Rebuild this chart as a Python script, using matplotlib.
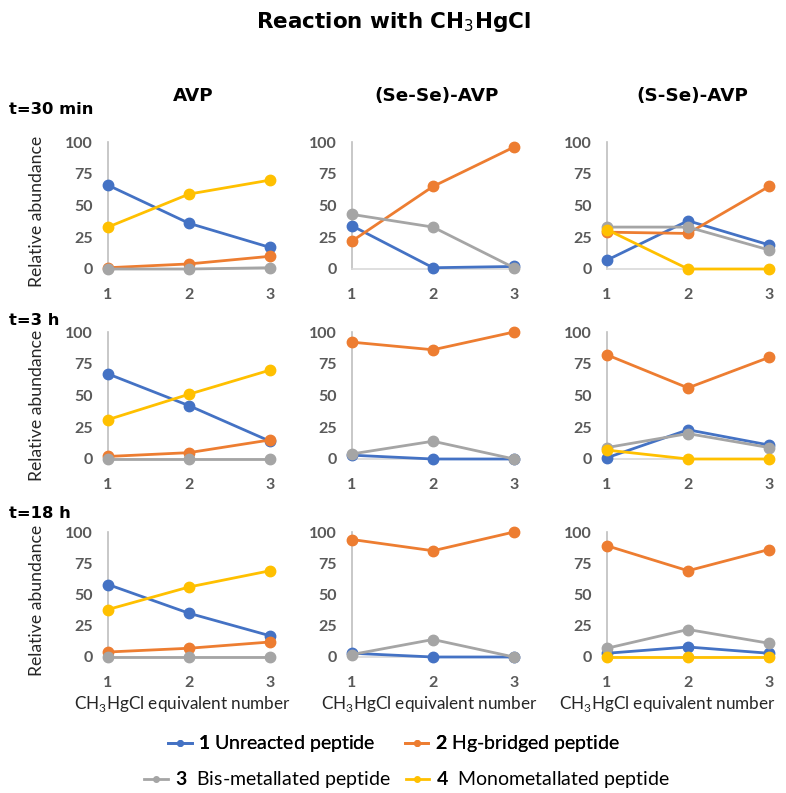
import matplotlib.pyplot as plt
from matplotlib.lines import Line2D

plt.rcParams['font.family'] = ['Lato', 'DejaVu Sans']
plt.rcParams['mathtext.fontset'] = 'custom'
plt.rcParams['mathtext.rm'] = 'Lato'
plt.rcParams['mathtext.bf'] = 'Lato:bold'

# ----------------------------
# Data (relative abundance, %)
# order of series: 1 unreacted, 2 Hg-bridged, 3 bis-metallated, 4 monometallated
# ----------------------------
equiv = [1, 2, 3]

avp_30 = [[66, 36, 17], [1, 4, 10], [0, 0, 1], [33, 59, 70]]
sese_30 = [[34, 1, 2], [22, 65, 96], [43, 33, 1], None]
sse_30 = [[7, 38, 19], [29, 28, 65], [33, 33, 15], [31, 0, 0]]

avp_3 = [[67, 42, 14], [2, 5, 15], [0, 0, 0], [31, 51, 70]]
sese_3 = [[3, 0, 0], [92, 86, 100], [4, 14, 0], None]
sse_3 = [[1, 23, 11], [82, 56, 80], [9, 20, 9], [7, 0, 0]]

avp_18 = [[58, 35, 17], [4, 7, 12], [0, 0, 0], [38, 56, 69]]
sese_18 = [[3, 0, 0], [94, 85, 100], [2, 14, 0], None]
sse_18 = [[3, 8, 3], [89, 69, 86], [7, 22, 11], [0, 0, 0]]

col_titles = ["AVP", "(Se-Se)-AVP", "(S-Se)-AVP"]
row_titles = ["t=30 min", "t=3 h", "t=18 h"]
series_names = [r"$\mathbf{1}$ Unreacted peptide", r"$\mathbf{2}$ Hg-bridged peptide",
                r"$\mathbf{3}$  Bis-metallated peptide", r"$\mathbf{4}$  Monometallated peptide"]
colors = ['#4472C4', '#ED7D31', '#A5A5A5', '#FFC000']
yticks = [0, 25, 50, 75, 100]

panels = [[avp_30, sese_30, sse_30],
          [avp_3, sese_3, sse_3],
          [avp_18, sese_18, sse_18]]

# ----------------------------
# Figure layout (pixel positions of the reference)
# ----------------------------
W, H = 786, 793
fig = plt.figure(figsize=(W / 100, H / 100), dpi=100)

col_x = [108, 352, 607]
col_w = 162
row_bottom = [269, 459, 657]
row_h = [127, 127, 125]
xlabel_x = [0.46, 0.48, 0.37]
ylabel_y = [0.45, 0.42, 0.45]

for r in range(3):
    for c in range(3):
        ax = fig.add_axes([col_x[c] / W, 1 - row_bottom[r] / H, col_w / W, row_h[r] / H])
        for k, vals in enumerate(panels[r][c]):
            if vals is None:
                continue
            ax.plot(equiv, vals, '-o', color=colors[k], lw=2, ms=7.5, clip_on=False, zorder=3 + k)
        ax.set_xlim(1, 3)
        ax.set_ylim(0, 100)
        ax.set_xticks(equiv)
        ax.set_yticks(yticks)
        for s in ['top', 'right']:
            ax.spines[s].set_visible(False)
        ax.spines['left'].set_color('#BFBFBF')
        ax.spines['bottom'].set_color('#D9D9D9')
        ax.spines['left'].set_linewidth(1.2)
        ax.spines['bottom'].set_linewidth(1.2)
        ax.tick_params(length=0, labelsize=11.5, labelcolor='#595959')
        ax.tick_params(axis='y', pad=11)
        ax.tick_params(axis='x', pad=14)
        for lab in ax.get_xticklabels() + ax.get_yticklabels():
            lab.set_fontweight('bold')
        ax.set_facecolor('none')
        if c == 0:
            ax.set_ylabel("Relative abundance", fontsize=12.7, color='#262626')
            ax.yaxis.set_label_coords(-0.44, ylabel_y[r])
            ax.yaxis.label.set_va('center')
        if r == 2:
            ax.set_xlabel(r"CH$_3$HgCl equivalent number", fontsize=12.3, color='#262626')
            ax.xaxis.set_label_coords(xlabel_x[c], -0.38)
            ax.xaxis.label.set_va('center')

# titles
fig.text(0.5, 1 - 22 / H, r"Reaction with CH$_3$HgCl", ha='center', va='center',
         fontsize=15.5, fontweight='bold', family='DejaVu Sans', math_fontfamily='dejavusans')
for c, t in enumerate(col_titles):
    fig.text((col_x[c] + col_w / 2 + 4) / W, 1 - 96 / H, t, ha='center', va='center',
             fontsize=13.2, fontweight='bold', family='DejaVu Sans')
for r, y in zip(range(3), [109, 320, 514]):
    fig.text(9 / W, 1 - y / H, row_titles[r], ha='left', va='center', fontsize=11.8,
             fontweight='bold', family='DejaVu Sans')

# legend
handles = [Line2D([], [], color=col, lw=2, marker='o', ms=4) for col in colors]
leg1 = fig.legend(handles[:2], series_names[:2], loc='center', bbox_to_anchor=(394 / W, 1 - 744 / H),
                  ncol=2, frameon=False, fontsize=14, handlelength=1.2, handletextpad=0.35,
                  columnspacing=1.5)
fig.add_artist(leg1)
fig.legend(handles[2:], series_names[2:], loc='center', bbox_to_anchor=(407 / W, 1 - 780 / H),
           ncol=2, frameon=False, fontsize=14, handlelength=1.2, handletextpad=0.35,
           columnspacing=0.8)

fig.savefig('out.png', dpi=100)
